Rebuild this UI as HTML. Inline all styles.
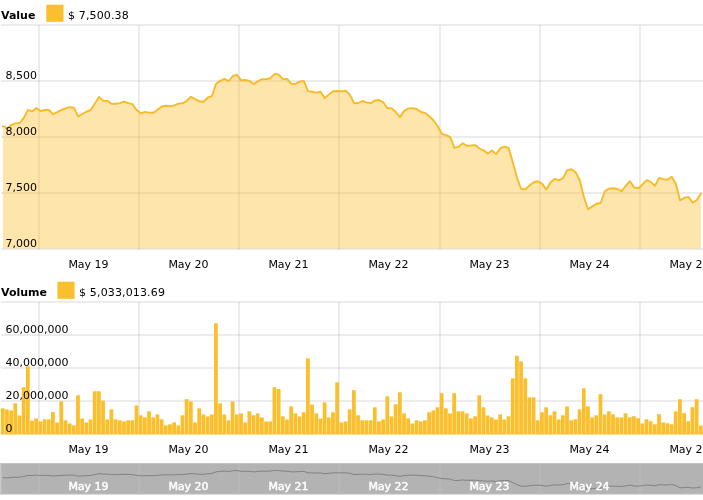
<!DOCTYPE html>
<html><head><meta charset="utf-8"><title>Chart</title>
<style>html,body{margin:0;padding:0;background:#fff;overflow:hidden}</style></head>
<body>
<svg width="703" height="500" viewBox="0 0 703 500" style="display:block;will-change:transform;font-family:'DejaVu Sans', 'Liberation Sans', sans-serif;font-size:11px">
<rect width="703" height="500" fill="#fff"/>
<rect x="1" y="24.50" width="702" height="1" fill="#000" fill-opacity="0.15"/>
<rect x="1" y="80.50" width="702" height="1" fill="#000" fill-opacity="0.15"/>
<rect x="1" y="136.50" width="702" height="1" fill="#000" fill-opacity="0.15"/>
<rect x="1" y="192.50" width="702" height="1" fill="#000" fill-opacity="0.15"/>
<rect x="1" y="248.50" width="702" height="1" fill="#000" fill-opacity="0.15"/>
<rect x="38.50" y="25.00" width="1" height="224.50" fill="#000" fill-opacity="0.15"/>
<rect x="138.50" y="25.00" width="1" height="224.50" fill="#000" fill-opacity="0.15"/>
<rect x="238.50" y="25.00" width="1" height="224.50" fill="#000" fill-opacity="0.15"/>
<rect x="338.50" y="25.00" width="1" height="224.50" fill="#000" fill-opacity="0.15"/>
<rect x="439.50" y="25.00" width="1" height="224.50" fill="#000" fill-opacity="0.15"/>
<rect x="539.50" y="25.00" width="1" height="224.50" fill="#000" fill-opacity="0.15"/>
<rect x="639.50" y="25.00" width="1" height="224.50" fill="#000" fill-opacity="0.15"/>
<path d="M2.89,248.6 L2.89,126.00 L7.07,128.40 L11.25,125.10 L15.43,123.40 L19.61,123.00 L23.79,117.90 L27.97,109.90 L32.15,111.40 L36.33,108.10 L40.51,111.10 L44.69,110.00 L48.87,110.00 L53.05,114.20 L57.23,112.20 L61.41,110.00 L65.59,108.40 L69.77,107.20 L73.95,107.70 L78.13,116.40 L82.31,114.00 L86.49,111.70 L90.67,110.00 L94.85,103.60 L99.03,96.90 L103.21,100.90 L107.39,100.90 L111.57,103.70 L115.75,103.80 L119.93,103.10 L124.11,101.70 L128.29,103.10 L132.47,104.20 L136.65,110.10 L140.83,113.40 L145.01,111.90 L149.19,112.60 L153.37,112.80 L157.55,109.80 L161.73,106.50 L165.91,105.80 L170.09,106.30 L174.27,105.30 L178.45,103.60 L182.63,103.10 L186.81,100.80 L190.99,96.80 L195.17,99.00 L199.35,101.30 L203.53,102.00 L207.71,97.50 L211.89,96.10 L216.07,83.70 L220.25,80.80 L224.43,78.90 L228.61,81.20 L232.79,76.00 L236.97,74.90 L241.15,80.30 L245.33,80.00 L249.51,80.90 L253.69,84.10 L257.87,81.20 L262.05,79.20 L266.23,79.10 L270.41,78.20 L274.59,73.90 L278.77,74.60 L282.95,79.10 L287.13,78.90 L291.31,83.90 L295.49,83.90 L299.67,81.60 L303.85,81.00 L308.03,91.10 L312.21,91.80 L316.39,92.60 L320.57,91.80 L324.75,98.10 L328.93,94.40 L333.11,91.30 L337.29,91.00 L341.47,91.20 L345.65,90.80 L349.83,94.60 L354.01,103.20 L358.19,103.00 L362.37,101.00 L366.55,102.30 L370.73,103.40 L374.91,100.50 L379.09,100.00 L383.27,102.30 L387.45,108.20 L391.63,108.10 L395.81,112.00 L399.99,117.10 L404.17,110.90 L408.35,108.40 L412.53,108.10 L416.71,109.00 L420.89,112.00 L425.07,112.90 L429.25,116.20 L433.43,120.30 L437.61,126.00 L441.79,133.80 L445.97,135.10 L450.15,136.90 L454.33,147.80 L458.51,146.90 L462.69,143.30 L466.87,145.80 L471.05,145.50 L475.23,145.10 L479.41,148.50 L483.59,150.30 L487.77,153.60 L491.95,150.50 L496.13,154.10 L500.31,148.20 L504.49,146.60 L508.67,148.00 L512.85,162.60 L517.03,177.80 L521.21,189.00 L525.39,189.20 L529.57,185.40 L533.75,182.20 L537.93,181.30 L542.11,183.60 L546.29,189.50 L550.47,182.40 L554.65,178.90 L558.83,180.40 L563.01,178.20 L567.19,170.10 L571.37,169.20 L575.55,172.20 L579.73,180.00 L583.91,197.10 L588.09,209.30 L592.27,206.40 L596.45,203.70 L600.63,203.00 L604.81,191.30 L608.99,188.60 L613.17,188.20 L617.35,189.00 L621.53,191.40 L625.71,185.90 L629.89,181.20 L634.07,187.40 L638.25,188.30 L642.43,184.50 L646.61,180.20 L650.79,181.90 L654.97,185.70 L659.15,177.90 L663.33,179.10 L667.51,179.70 L671.69,176.70 L675.87,183.70 L680.05,200.30 L684.23,198.00 L688.41,196.90 L692.59,202.50 L696.77,200.00 L700.95,193.60 L700.95,248.6 Z" fill="#fabf2c" fill-opacity="0.4"/>
<polyline points="2.89,126.00 7.07,128.40 11.25,125.10 15.43,123.40 19.61,123.00 23.79,117.90 27.97,109.90 32.15,111.40 36.33,108.10 40.51,111.10 44.69,110.00 48.87,110.00 53.05,114.20 57.23,112.20 61.41,110.00 65.59,108.40 69.77,107.20 73.95,107.70 78.13,116.40 82.31,114.00 86.49,111.70 90.67,110.00 94.85,103.60 99.03,96.90 103.21,100.90 107.39,100.90 111.57,103.70 115.75,103.80 119.93,103.10 124.11,101.70 128.29,103.10 132.47,104.20 136.65,110.10 140.83,113.40 145.01,111.90 149.19,112.60 153.37,112.80 157.55,109.80 161.73,106.50 165.91,105.80 170.09,106.30 174.27,105.30 178.45,103.60 182.63,103.10 186.81,100.80 190.99,96.80 195.17,99.00 199.35,101.30 203.53,102.00 207.71,97.50 211.89,96.10 216.07,83.70 220.25,80.80 224.43,78.90 228.61,81.20 232.79,76.00 236.97,74.90 241.15,80.30 245.33,80.00 249.51,80.90 253.69,84.10 257.87,81.20 262.05,79.20 266.23,79.10 270.41,78.20 274.59,73.90 278.77,74.60 282.95,79.10 287.13,78.90 291.31,83.90 295.49,83.90 299.67,81.60 303.85,81.00 308.03,91.10 312.21,91.80 316.39,92.60 320.57,91.80 324.75,98.10 328.93,94.40 333.11,91.30 337.29,91.00 341.47,91.20 345.65,90.80 349.83,94.60 354.01,103.20 358.19,103.00 362.37,101.00 366.55,102.30 370.73,103.40 374.91,100.50 379.09,100.00 383.27,102.30 387.45,108.20 391.63,108.10 395.81,112.00 399.99,117.10 404.17,110.90 408.35,108.40 412.53,108.10 416.71,109.00 420.89,112.00 425.07,112.90 429.25,116.20 433.43,120.30 437.61,126.00 441.79,133.80 445.97,135.10 450.15,136.90 454.33,147.80 458.51,146.90 462.69,143.30 466.87,145.80 471.05,145.50 475.23,145.10 479.41,148.50 483.59,150.30 487.77,153.60 491.95,150.50 496.13,154.10 500.31,148.20 504.49,146.60 508.67,148.00 512.85,162.60 517.03,177.80 521.21,189.00 525.39,189.20 529.57,185.40 533.75,182.20 537.93,181.30 542.11,183.60 546.29,189.50 550.47,182.40 554.65,178.90 558.83,180.40 563.01,178.20 567.19,170.10 571.37,169.20 575.55,172.20 579.73,180.00 583.91,197.10 588.09,209.30 592.27,206.40 596.45,203.70 600.63,203.00 604.81,191.30 608.99,188.60 613.17,188.20 617.35,189.00 621.53,191.40 625.71,185.90 629.89,181.20 634.07,187.40 638.25,188.30 642.43,184.50 646.61,180.20 650.79,181.90 654.97,185.70 659.15,177.90 663.33,179.10 667.51,179.70 671.69,176.70 675.87,183.70 680.05,200.30 684.23,198.00 688.41,196.90 692.59,202.50 696.77,200.00 700.95,193.60" fill="none" stroke="#f8bb28" stroke-width="1.9" stroke-linejoin="round" stroke-linecap="round"/>
<text x="5.6" y="79" fill="#000">8,500</text>
<text x="5.6" y="135" fill="#000">8,000</text>
<text x="5.6" y="191" fill="#000">7,500</text>
<text x="5.6" y="247" fill="#000">7,000</text>
<text x="1" y="19" font-weight="bold" fill="#000">Value</text>
<rect x="46.3" y="4.7" width="17.2" height="17.1" fill="#fabf2c"/>
<text x="68" y="19" fill="#000" letter-spacing="0.14">$ 7,500.38</text>
<text x="1" y="296" font-weight="bold" fill="#000">Volume</text>
<rect x="57.4" y="281.7" width="17.2" height="17.1" fill="#fabf2c"/>
<text x="79.1" y="296" fill="#000" letter-spacing="0.14">$ 5,033,013.69</text>
<text x="88.5" y="268" text-anchor="middle" fill="#000">May 19</text>
<text x="188.5" y="268" text-anchor="middle" fill="#000">May 20</text>
<text x="288.5" y="268" text-anchor="middle" fill="#000">May 21</text>
<text x="388.5" y="268" text-anchor="middle" fill="#000">May 22</text>
<text x="489.5" y="268" text-anchor="middle" fill="#000">May 23</text>
<text x="589.5" y="268" text-anchor="middle" fill="#000">May 24</text>
<text x="689.5" y="268" text-anchor="middle" fill="#000">May 25</text>
<rect x="1" y="301.50" width="702" height="1" fill="#000" fill-opacity="0.15"/>
<rect x="1" y="334.50" width="702" height="1" fill="#000" fill-opacity="0.15"/>
<rect x="1" y="367.50" width="702" height="1" fill="#000" fill-opacity="0.15"/>
<rect x="1" y="400.50" width="702" height="1" fill="#000" fill-opacity="0.15"/>
<rect x="38.50" y="302.00" width="1" height="132.00" fill="#000" fill-opacity="0.15"/>
<rect x="138.50" y="302.00" width="1" height="132.00" fill="#000" fill-opacity="0.15"/>
<rect x="238.50" y="302.00" width="1" height="132.00" fill="#000" fill-opacity="0.15"/>
<rect x="338.50" y="302.00" width="1" height="132.00" fill="#000" fill-opacity="0.15"/>
<rect x="439.50" y="302.00" width="1" height="132.00" fill="#000" fill-opacity="0.15"/>
<rect x="539.50" y="302.00" width="1" height="132.00" fill="#000" fill-opacity="0.15"/>
<rect x="639.50" y="302.00" width="1" height="132.00" fill="#000" fill-opacity="0.15"/>
<rect x="0.85" y="408.30" width="3.78" height="26.00" fill="#fabf2c"/>
<rect x="5.03" y="409.40" width="3.78" height="24.90" fill="#fabf2c"/>
<rect x="9.21" y="410.50" width="3.78" height="23.80" fill="#fabf2c"/>
<rect x="13.39" y="403.30" width="3.78" height="31.00" fill="#fabf2c"/>
<rect x="17.57" y="415.50" width="3.78" height="18.80" fill="#fabf2c"/>
<rect x="21.75" y="387.30" width="3.78" height="47.00" fill="#fabf2c"/>
<rect x="25.93" y="366.20" width="3.78" height="68.10" fill="#fabf2c"/>
<rect x="30.11" y="420.60" width="3.78" height="13.70" fill="#fabf2c"/>
<rect x="34.29" y="418.40" width="3.78" height="15.90" fill="#fabf2c"/>
<rect x="38.47" y="421.40" width="3.78" height="12.90" fill="#fabf2c"/>
<rect x="42.65" y="419.30" width="3.78" height="15.00" fill="#fabf2c"/>
<rect x="46.83" y="419.30" width="3.78" height="15.00" fill="#fabf2c"/>
<rect x="51.01" y="412.10" width="3.78" height="22.20" fill="#fabf2c"/>
<rect x="55.19" y="422.50" width="3.78" height="11.80" fill="#fabf2c"/>
<rect x="59.37" y="401.40" width="3.78" height="32.90" fill="#fabf2c"/>
<rect x="63.55" y="420.30" width="3.78" height="14.00" fill="#fabf2c"/>
<rect x="67.73" y="423.50" width="3.78" height="10.80" fill="#fabf2c"/>
<rect x="71.91" y="425.40" width="3.78" height="8.90" fill="#fabf2c"/>
<rect x="76.09" y="395.30" width="3.78" height="39.00" fill="#fabf2c"/>
<rect x="80.27" y="418.50" width="3.78" height="15.80" fill="#fabf2c"/>
<rect x="84.45" y="422.50" width="3.78" height="11.80" fill="#fabf2c"/>
<rect x="88.63" y="419.50" width="3.78" height="14.80" fill="#fabf2c"/>
<rect x="92.81" y="391.30" width="3.78" height="43.00" fill="#fabf2c"/>
<rect x="96.99" y="391.30" width="3.78" height="43.00" fill="#fabf2c"/>
<rect x="101.17" y="400.60" width="3.78" height="33.70" fill="#fabf2c"/>
<rect x="105.35" y="419.50" width="3.78" height="14.80" fill="#fabf2c"/>
<rect x="109.53" y="409.40" width="3.78" height="24.90" fill="#fabf2c"/>
<rect x="113.71" y="419.30" width="3.78" height="15.00" fill="#fabf2c"/>
<rect x="117.89" y="420.30" width="3.78" height="14.00" fill="#fabf2c"/>
<rect x="122.07" y="421.40" width="3.78" height="12.90" fill="#fabf2c"/>
<rect x="126.25" y="420.30" width="3.78" height="14.00" fill="#fabf2c"/>
<rect x="130.43" y="420.30" width="3.78" height="14.00" fill="#fabf2c"/>
<rect x="134.61" y="405.40" width="3.78" height="28.90" fill="#fabf2c"/>
<rect x="138.79" y="415.30" width="3.78" height="19.00" fill="#fabf2c"/>
<rect x="142.97" y="417.40" width="3.78" height="16.90" fill="#fabf2c"/>
<rect x="147.15" y="411.30" width="3.78" height="23.00" fill="#fabf2c"/>
<rect x="151.33" y="417.40" width="3.78" height="16.90" fill="#fabf2c"/>
<rect x="155.51" y="414.40" width="3.78" height="19.90" fill="#fabf2c"/>
<rect x="159.69" y="419.30" width="3.78" height="15.00" fill="#fabf2c"/>
<rect x="163.87" y="425.40" width="3.78" height="8.90" fill="#fabf2c"/>
<rect x="168.05" y="424.30" width="3.78" height="10.00" fill="#fabf2c"/>
<rect x="172.23" y="422.40" width="3.78" height="11.90" fill="#fabf2c"/>
<rect x="176.41" y="425.40" width="3.78" height="8.90" fill="#fabf2c"/>
<rect x="180.59" y="415.30" width="3.78" height="19.00" fill="#fabf2c"/>
<rect x="184.77" y="399.20" width="3.78" height="35.10" fill="#fabf2c"/>
<rect x="188.95" y="401.40" width="3.78" height="32.90" fill="#fabf2c"/>
<rect x="193.13" y="422.40" width="3.78" height="11.90" fill="#fabf2c"/>
<rect x="197.31" y="408.30" width="3.78" height="26.00" fill="#fabf2c"/>
<rect x="201.49" y="414.50" width="3.78" height="19.80" fill="#fabf2c"/>
<rect x="205.67" y="416.40" width="3.78" height="17.90" fill="#fabf2c"/>
<rect x="209.85" y="414.50" width="3.78" height="19.80" fill="#fabf2c"/>
<rect x="214.03" y="323.30" width="3.78" height="111.00" fill="#fabf2c"/>
<rect x="218.21" y="403.30" width="3.78" height="31.00" fill="#fabf2c"/>
<rect x="222.39" y="414.50" width="3.78" height="19.80" fill="#fabf2c"/>
<rect x="226.57" y="420.30" width="3.78" height="14.00" fill="#fabf2c"/>
<rect x="230.75" y="401.40" width="3.78" height="32.90" fill="#fabf2c"/>
<rect x="234.93" y="414.50" width="3.78" height="19.80" fill="#fabf2c"/>
<rect x="239.11" y="413.40" width="3.78" height="20.90" fill="#fabf2c"/>
<rect x="243.29" y="422.50" width="3.78" height="11.80" fill="#fabf2c"/>
<rect x="247.47" y="411.30" width="3.78" height="23.00" fill="#fabf2c"/>
<rect x="251.65" y="415.30" width="3.78" height="19.00" fill="#fabf2c"/>
<rect x="255.83" y="413.40" width="3.78" height="20.90" fill="#fabf2c"/>
<rect x="260.01" y="417.40" width="3.78" height="16.90" fill="#fabf2c"/>
<rect x="264.19" y="421.40" width="3.78" height="12.90" fill="#fabf2c"/>
<rect x="268.37" y="421.40" width="3.78" height="12.90" fill="#fabf2c"/>
<rect x="272.55" y="387.30" width="3.78" height="47.00" fill="#fabf2c"/>
<rect x="276.73" y="389.10" width="3.78" height="45.20" fill="#fabf2c"/>
<rect x="280.91" y="416.30" width="3.78" height="18.00" fill="#fabf2c"/>
<rect x="285.09" y="419.50" width="3.78" height="14.80" fill="#fabf2c"/>
<rect x="289.27" y="406.40" width="3.78" height="27.90" fill="#fabf2c"/>
<rect x="293.45" y="413.40" width="3.78" height="20.90" fill="#fabf2c"/>
<rect x="297.63" y="416.40" width="3.78" height="17.90" fill="#fabf2c"/>
<rect x="301.81" y="412.30" width="3.78" height="22.00" fill="#fabf2c"/>
<rect x="305.99" y="358.30" width="3.78" height="76.00" fill="#fabf2c"/>
<rect x="310.17" y="404.60" width="3.78" height="29.70" fill="#fabf2c"/>
<rect x="314.35" y="413.40" width="3.78" height="20.90" fill="#fabf2c"/>
<rect x="318.53" y="418.50" width="3.78" height="15.80" fill="#fabf2c"/>
<rect x="322.71" y="402.40" width="3.78" height="31.90" fill="#fabf2c"/>
<rect x="326.89" y="417.40" width="3.78" height="16.90" fill="#fabf2c"/>
<rect x="331.07" y="412.30" width="3.78" height="22.00" fill="#fabf2c"/>
<rect x="335.25" y="382.40" width="3.78" height="51.90" fill="#fabf2c"/>
<rect x="339.43" y="422.50" width="3.78" height="11.80" fill="#fabf2c"/>
<rect x="343.61" y="421.40" width="3.78" height="12.90" fill="#fabf2c"/>
<rect x="347.79" y="409.40" width="3.78" height="24.90" fill="#fabf2c"/>
<rect x="351.97" y="390.20" width="3.78" height="44.10" fill="#fabf2c"/>
<rect x="356.15" y="415.30" width="3.78" height="19.00" fill="#fabf2c"/>
<rect x="360.33" y="420.30" width="3.78" height="14.00" fill="#fabf2c"/>
<rect x="364.51" y="420.30" width="3.78" height="14.00" fill="#fabf2c"/>
<rect x="368.69" y="420.30" width="3.78" height="14.00" fill="#fabf2c"/>
<rect x="372.87" y="407.30" width="3.78" height="27.00" fill="#fabf2c"/>
<rect x="377.05" y="421.40" width="3.78" height="12.90" fill="#fabf2c"/>
<rect x="381.23" y="419.50" width="3.78" height="14.80" fill="#fabf2c"/>
<rect x="385.41" y="396.30" width="3.78" height="38.00" fill="#fabf2c"/>
<rect x="389.59" y="416.40" width="3.78" height="17.90" fill="#fabf2c"/>
<rect x="393.77" y="404.30" width="3.78" height="30.00" fill="#fabf2c"/>
<rect x="397.95" y="392.30" width="3.78" height="42.00" fill="#fabf2c"/>
<rect x="402.13" y="413.40" width="3.78" height="20.90" fill="#fabf2c"/>
<rect x="406.31" y="418.40" width="3.78" height="15.90" fill="#fabf2c"/>
<rect x="410.49" y="423.50" width="3.78" height="10.80" fill="#fabf2c"/>
<rect x="414.67" y="420.30" width="3.78" height="14.00" fill="#fabf2c"/>
<rect x="418.85" y="421.40" width="3.78" height="12.90" fill="#fabf2c"/>
<rect x="423.03" y="420.30" width="3.78" height="14.00" fill="#fabf2c"/>
<rect x="427.21" y="412.30" width="3.78" height="22.00" fill="#fabf2c"/>
<rect x="431.39" y="410.40" width="3.78" height="23.90" fill="#fabf2c"/>
<rect x="435.57" y="407.30" width="3.78" height="27.00" fill="#fabf2c"/>
<rect x="439.75" y="393.20" width="3.78" height="41.10" fill="#fabf2c"/>
<rect x="443.93" y="408.30" width="3.78" height="26.00" fill="#fabf2c"/>
<rect x="448.11" y="413.40" width="3.78" height="20.90" fill="#fabf2c"/>
<rect x="452.29" y="393.20" width="3.78" height="41.10" fill="#fabf2c"/>
<rect x="456.47" y="411.30" width="3.78" height="23.00" fill="#fabf2c"/>
<rect x="460.65" y="411.30" width="3.78" height="23.00" fill="#fabf2c"/>
<rect x="464.83" y="413.40" width="3.78" height="20.90" fill="#fabf2c"/>
<rect x="469.01" y="418.50" width="3.78" height="15.80" fill="#fabf2c"/>
<rect x="473.19" y="416.30" width="3.78" height="18.00" fill="#fabf2c"/>
<rect x="477.37" y="395.30" width="3.78" height="39.00" fill="#fabf2c"/>
<rect x="481.55" y="407.30" width="3.78" height="27.00" fill="#fabf2c"/>
<rect x="485.73" y="415.50" width="3.78" height="18.80" fill="#fabf2c"/>
<rect x="489.91" y="417.40" width="3.78" height="16.90" fill="#fabf2c"/>
<rect x="494.09" y="419.50" width="3.78" height="14.80" fill="#fabf2c"/>
<rect x="498.27" y="414.40" width="3.78" height="19.90" fill="#fabf2c"/>
<rect x="502.45" y="419.50" width="3.78" height="14.80" fill="#fabf2c"/>
<rect x="506.63" y="416.30" width="3.78" height="18.00" fill="#fabf2c"/>
<rect x="510.81" y="378.40" width="3.78" height="55.90" fill="#fabf2c"/>
<rect x="514.99" y="355.80" width="3.78" height="78.50" fill="#fabf2c"/>
<rect x="519.17" y="361.40" width="3.78" height="72.90" fill="#fabf2c"/>
<rect x="523.35" y="378.40" width="3.78" height="55.90" fill="#fabf2c"/>
<rect x="527.53" y="397.40" width="3.78" height="36.90" fill="#fabf2c"/>
<rect x="531.71" y="397.40" width="3.78" height="36.90" fill="#fabf2c"/>
<rect x="535.89" y="420.30" width="3.78" height="14.00" fill="#fabf2c"/>
<rect x="540.07" y="412.30" width="3.78" height="22.00" fill="#fabf2c"/>
<rect x="544.25" y="407.30" width="3.78" height="27.00" fill="#fabf2c"/>
<rect x="548.43" y="415.30" width="3.78" height="19.00" fill="#fabf2c"/>
<rect x="552.61" y="411.30" width="3.78" height="23.00" fill="#fabf2c"/>
<rect x="556.79" y="419.50" width="3.78" height="14.80" fill="#fabf2c"/>
<rect x="560.97" y="415.30" width="3.78" height="19.00" fill="#fabf2c"/>
<rect x="565.15" y="406.40" width="3.78" height="27.90" fill="#fabf2c"/>
<rect x="569.33" y="420.30" width="3.78" height="14.00" fill="#fabf2c"/>
<rect x="573.51" y="419.30" width="3.78" height="15.00" fill="#fabf2c"/>
<rect x="577.69" y="409.40" width="3.78" height="24.90" fill="#fabf2c"/>
<rect x="581.87" y="388.30" width="3.78" height="46.00" fill="#fabf2c"/>
<rect x="586.05" y="406.40" width="3.78" height="27.90" fill="#fabf2c"/>
<rect x="590.23" y="417.40" width="3.78" height="16.90" fill="#fabf2c"/>
<rect x="594.41" y="415.30" width="3.78" height="19.00" fill="#fabf2c"/>
<rect x="598.59" y="394.20" width="3.78" height="40.10" fill="#fabf2c"/>
<rect x="602.77" y="414.50" width="3.78" height="19.80" fill="#fabf2c"/>
<rect x="606.95" y="411.30" width="3.78" height="23.00" fill="#fabf2c"/>
<rect x="611.13" y="414.40" width="3.78" height="19.90" fill="#fabf2c"/>
<rect x="615.31" y="417.40" width="3.78" height="16.90" fill="#fabf2c"/>
<rect x="619.49" y="417.40" width="3.78" height="16.90" fill="#fabf2c"/>
<rect x="623.67" y="413.40" width="3.78" height="20.90" fill="#fabf2c"/>
<rect x="627.85" y="417.30" width="3.78" height="17.00" fill="#fabf2c"/>
<rect x="632.03" y="416.20" width="3.78" height="18.10" fill="#fabf2c"/>
<rect x="636.21" y="418.20" width="3.78" height="16.10" fill="#fabf2c"/>
<rect x="640.39" y="423.50" width="3.78" height="10.80" fill="#fabf2c"/>
<rect x="644.57" y="419.30" width="3.78" height="15.00" fill="#fabf2c"/>
<rect x="648.75" y="421.30" width="3.78" height="13.00" fill="#fabf2c"/>
<rect x="652.93" y="424.30" width="3.78" height="10.00" fill="#fabf2c"/>
<rect x="657.11" y="414.20" width="3.78" height="20.10" fill="#fabf2c"/>
<rect x="661.29" y="422.40" width="3.78" height="11.90" fill="#fabf2c"/>
<rect x="665.47" y="423.30" width="3.78" height="11.00" fill="#fabf2c"/>
<rect x="669.65" y="424.30" width="3.78" height="10.00" fill="#fabf2c"/>
<rect x="673.83" y="411.30" width="3.78" height="23.00" fill="#fabf2c"/>
<rect x="678.01" y="399.20" width="3.78" height="35.10" fill="#fabf2c"/>
<rect x="682.19" y="413.20" width="3.78" height="21.10" fill="#fabf2c"/>
<rect x="686.37" y="421.20" width="3.78" height="13.10" fill="#fabf2c"/>
<rect x="690.55" y="407.20" width="3.78" height="27.10" fill="#fabf2c"/>
<rect x="694.73" y="399.20" width="3.78" height="35.10" fill="#fabf2c"/>
<rect x="698.91" y="425.50" width="3.78" height="8.80" fill="#fabf2c"/>
<rect x="1" y="433.3" width="702" height="1.0" fill="#fabf2c"/>
<text x="5.6" y="333" fill="#000">60,000,000</text>
<text x="5.6" y="366" fill="#000">40,000,000</text>
<text x="5.6" y="399" fill="#000">20,000,000</text>
<text x="5.6" y="432" fill="#000">0</text>
<text x="88.5" y="453" text-anchor="middle" fill="#000">May 19</text>
<text x="188.5" y="453" text-anchor="middle" fill="#000">May 20</text>
<text x="288.5" y="453" text-anchor="middle" fill="#000">May 21</text>
<text x="388.5" y="453" text-anchor="middle" fill="#000">May 22</text>
<text x="489.5" y="453" text-anchor="middle" fill="#000">May 23</text>
<text x="589.5" y="453" text-anchor="middle" fill="#000">May 24</text>
<text x="689.5" y="453" text-anchor="middle" fill="#000">May 25</text>
<rect x="0" y="463" width="703" height="31.30000000000001" fill="#b3b3b3"/>
<rect x="0" y="463" width="703" height="1" fill="#c4c4c4"/>
<rect x="0" y="463" width="1.5" height="31.30000000000001" fill="#c8c8c8"/>
<rect x="38.50" y="463" width="1" height="31.30000000000001" fill="#bdbdbd"/>
<rect x="138.50" y="463" width="1" height="31.30000000000001" fill="#bdbdbd"/>
<rect x="238.50" y="463" width="1" height="31.30000000000001" fill="#bdbdbd"/>
<rect x="338.50" y="463" width="1" height="31.30000000000001" fill="#bdbdbd"/>
<rect x="439.50" y="463" width="1" height="31.30000000000001" fill="#bdbdbd"/>
<rect x="539.50" y="463" width="1" height="31.30000000000001" fill="#bdbdbd"/>
<rect x="639.50" y="463" width="1" height="31.30000000000001" fill="#bdbdbd"/>
<polyline points="2.89,477.59 7.07,477.92 11.25,477.47 15.43,477.24 19.61,477.18 23.79,476.48 27.97,475.39 32.15,475.59 36.33,475.14 40.51,475.55 44.69,475.40 48.87,475.40 53.05,475.98 57.23,475.70 61.41,475.40 65.59,475.18 69.77,475.02 73.95,475.09 78.13,476.28 82.31,475.95 86.49,475.63 90.67,475.40 94.85,474.52 99.03,473.61 103.21,474.15 107.39,474.15 111.57,474.54 115.75,474.55 119.93,474.46 124.11,474.26 128.29,474.46 132.47,474.61 136.65,475.41 140.83,475.87 145.01,475.66 149.19,475.76 153.37,475.78 157.55,475.37 161.73,474.92 165.91,474.83 170.09,474.89 174.27,474.76 178.45,474.52 182.63,474.46 186.81,474.14 190.99,473.59 195.17,473.89 199.35,474.21 203.53,474.30 207.71,473.69 211.89,473.50 216.07,471.80 220.25,471.40 224.43,471.14 228.61,471.45 232.79,470.74 236.97,470.59 241.15,471.33 245.33,471.29 249.51,471.41 253.69,471.85 257.87,471.45 262.05,471.18 266.23,471.17 270.41,471.04 274.59,470.45 278.77,470.55 282.95,471.17 287.13,471.14 291.31,471.82 295.49,471.82 299.67,471.51 303.85,471.43 308.03,472.81 312.21,472.91 316.39,473.02 320.57,472.91 324.75,473.77 328.93,473.26 333.11,472.84 337.29,472.80 341.47,472.82 345.65,472.77 349.83,473.29 354.01,474.47 358.19,474.44 362.37,474.17 366.55,474.35 370.73,474.50 374.91,474.10 379.09,474.03 383.27,474.35 387.45,475.15 391.63,475.14 395.81,475.67 399.99,476.37 404.17,475.52 408.35,475.18 412.53,475.14 416.71,475.26 420.89,475.67 425.07,475.80 429.25,476.25 433.43,476.81 437.61,477.59 441.79,478.66 445.97,478.84 450.15,479.09 454.33,480.58 458.51,480.46 462.69,479.96 466.87,480.31 471.05,480.26 475.23,480.21 479.41,480.67 483.59,480.92 487.77,481.37 491.95,480.95 496.13,481.44 500.31,480.63 504.49,480.41 508.67,480.61 512.85,482.61 517.03,484.69 521.21,486.22 525.39,486.25 529.57,485.73 533.75,485.29 537.93,485.17 542.11,485.48 546.29,486.29 550.47,485.32 554.65,484.84 558.83,485.05 563.01,484.74 567.19,483.63 571.37,483.51 575.55,483.92 579.73,484.99 583.91,487.33 588.09,489.00 592.27,488.61 596.45,488.24 600.63,488.14 604.81,486.54 608.99,486.17 613.17,486.11 617.35,486.22 621.53,486.55 625.71,485.80 629.89,485.15 634.07,486.00 638.25,486.13 642.43,485.61 646.61,485.02 650.79,485.25 654.97,485.77 659.15,484.70 663.33,484.87 667.51,484.95 671.69,484.54 675.87,485.50 680.05,487.77 684.23,487.46 688.41,487.31 692.59,488.07 696.77,487.73 700.95,486.85" fill="none" stroke="#828282" stroke-width="1"/>
<rect x="0" y="493.3" width="703" height="1" fill="#bdbdbd"/>
<text x="88.5" y="490" text-anchor="middle" fill="#fff" stroke="#fff" stroke-width="0.45">May 19</text>
<text x="188.5" y="490" text-anchor="middle" fill="#fff" stroke="#fff" stroke-width="0.45">May 20</text>
<text x="288.5" y="490" text-anchor="middle" fill="#fff" stroke="#fff" stroke-width="0.45">May 21</text>
<text x="388.5" y="490" text-anchor="middle" fill="#fff" stroke="#fff" stroke-width="0.45">May 22</text>
<text x="489.5" y="490" text-anchor="middle" fill="#fff" stroke="#fff" stroke-width="0.45">May 23</text>
<text x="589.5" y="490" text-anchor="middle" fill="#fff" stroke="#fff" stroke-width="0.45">May 24</text>
</svg>
</body></html>
